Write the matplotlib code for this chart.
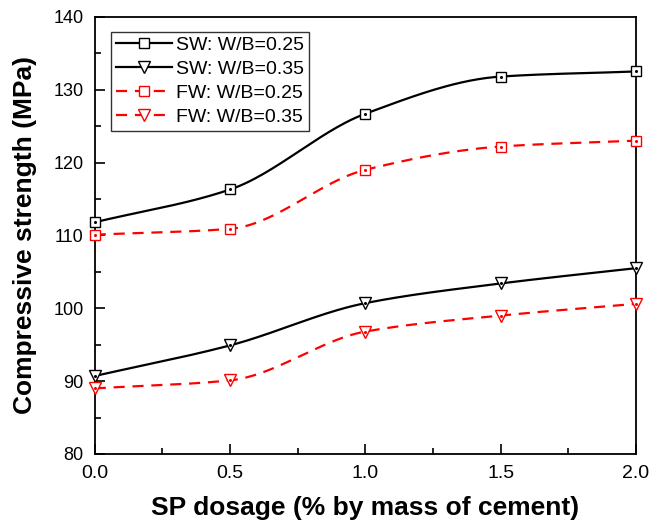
import numpy as np
import matplotlib
matplotlib.use("Agg")
import matplotlib.pyplot as plt
from matplotlib.ticker import MultipleLocator, FormatStrFormatter

plt.rcParams['font.family'] = ['Liberation Sans', 'DejaVu Sans']

# --------------------------
# Data
# --------------------------
sp = [0.0, 0.5, 1.0, 1.5, 2.0]
sw_025 = [111.8, 116.3, 126.7, 131.8, 132.5]
sw_035 = [90.7, 94.9, 100.7, 103.4, 105.5]
fw_025 = [110.1, 110.9, 119.0, 122.2, 123.0]
fw_035 = [89.0, 90.1, 96.8, 99.0, 100.6]


def pchip(x, y, n=200):
    # smooth connecting line through the points (monotone cubic)
    x = np.asarray(x, float)
    y = np.asarray(y, float)
    h = np.diff(x)
    d = np.diff(y) / h
    m = np.zeros_like(y)
    for k in range(1, len(x) - 1):
        if d[k - 1] * d[k] > 0:
            w1 = 2 * h[k] + h[k - 1]
            w2 = h[k] + 2 * h[k - 1]
            m[k] = (w1 + w2) / (w1 / d[k - 1] + w2 / d[k])
    m[0] = d[0]
    m[-1] = d[-1]
    xs = np.linspace(x[0], x[-1], n)
    idx = np.clip(np.searchsorted(x, xs) - 1, 0, len(x) - 2)
    t = (xs - x[idx]) / h[idx]
    h00 = 2 * t**3 - 3 * t**2 + 1
    h10 = t**3 - 2 * t**2 + t
    h01 = -2 * t**3 + 3 * t**2
    h11 = t**3 - t**2
    ys = h00 * y[idx] + h10 * h[idx] * m[idx] + h01 * y[idx + 1] + h11 * h[idx] * m[idx + 1]
    return xs, ys


fig = plt.figure(figsize=(6.49, 5.26), dpi=100)
ax = fig.add_axes([0.146, 0.137, 0.834, 0.831])

dash = (0, (5, 3.5))
series = [
    (sw_025, "SW: W/B=0.25", "black", "-", "s", 7),
    (sw_035, "SW: W/B=0.35", "black", "-", "v", 8.5),
    (fw_025, "FW: W/B=0.25", "red", dash, "s", 7),
    (fw_035, "FW: W/B=0.35", "red", dash, "v", 8.5),
]

for vals, lab, col, ls, mk, ms in series:
    xs, ys = pchip(sp, vals)
    ax.plot(xs, ys, color=col, linestyle=ls, linewidth=1.6, zorder=2)
    ax.plot(sp, vals, linestyle="none", marker=mk, markersize=ms,
            markerfacecolor="white", markeredgecolor=col, markeredgewidth=1.0,
            zorder=3, clip_on=False)
    ax.plot(sp, vals, linestyle="none", marker="o", markersize=1.2,
            color=col, zorder=4, clip_on=False)
    # legend handle
    ax.plot([], [], color=col, linestyle=ls, linewidth=1.6, marker=mk,
            markersize=ms, markerfacecolor="white", markeredgecolor=col,
            markeredgewidth=1.0, label=lab)

ax.set_xlim(0, 2.0)
ax.set_ylim(80, 140)
ax.xaxis.set_major_locator(MultipleLocator(0.5))
ax.xaxis.set_minor_locator(MultipleLocator(0.25))
ax.yaxis.set_major_locator(MultipleLocator(10))
ax.yaxis.set_minor_locator(MultipleLocator(5))
ax.xaxis.set_major_formatter(FormatStrFormatter("%.1f"))
ax.tick_params(which="major", direction="in", length=7, width=1.2, pad=8)
ax.tick_params(axis="x", labelsize=14)
ax.tick_params(axis="y", labelsize=13)
ax.tick_params(which="minor", direction="in", length=4, width=1.2)
for s in ax.spines.values():
    s.set_linewidth(1.3)

ax.set_xlabel("SP dosage (% by mass of cement)", fontsize=19, fontweight="bold", labelpad=10)
ax.set_ylabel("Compressive strength (MPa)", fontsize=19, fontweight="bold", labelpad=12)

leg = ax.legend(loc="upper left", bbox_to_anchor=(0.03, 0.966), fontsize=14,
                frameon=True, fancybox=False, edgecolor="black", handlelength=2.9,
                handletextpad=0.2, borderpad=0.25, labelspacing=0.32, borderaxespad=0)
leg.get_frame().set_linewidth(1.0)

fig.savefig("out.png", dpi=100)
